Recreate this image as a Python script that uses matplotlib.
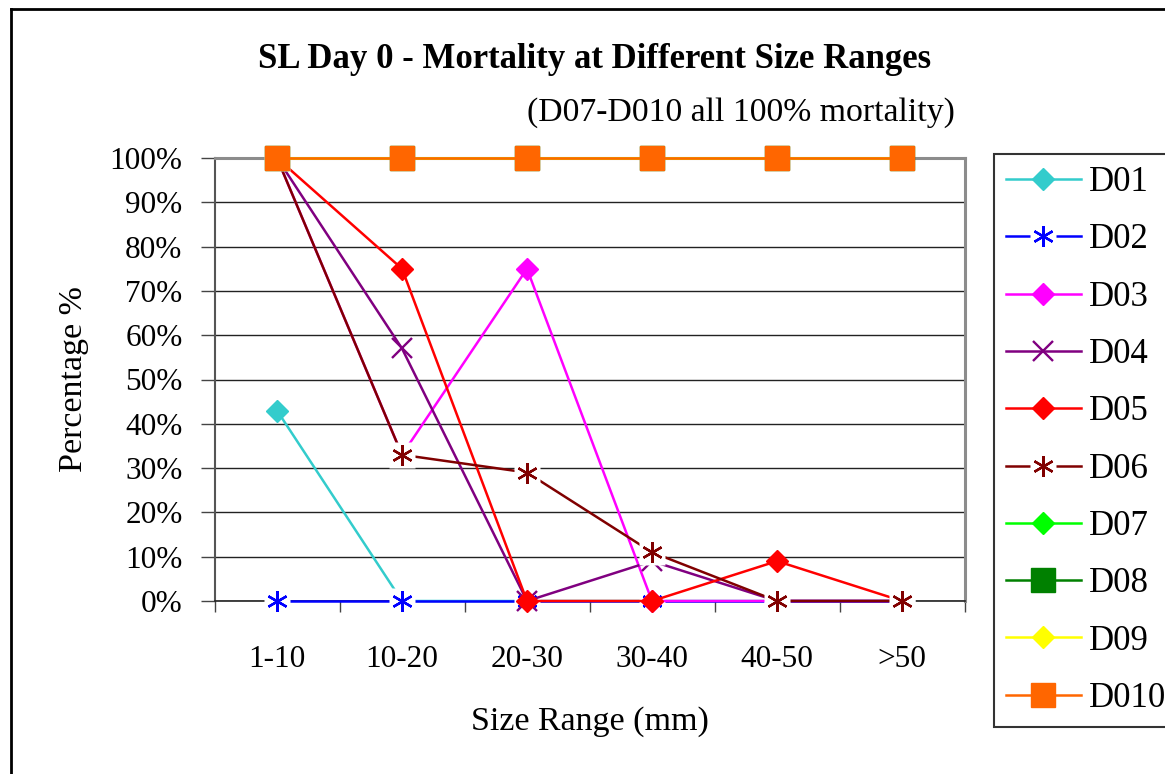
import matplotlib
matplotlib.use("Agg")
import matplotlib.pyplot as plt
from matplotlib.lines import Line2D
from matplotlib.ticker import FixedLocator, PercentFormatter

plt.rcParams["font.family"] = ["Liberation Serif", "DejaVu Serif"]

# mortality (%) per size class for each dose group
size_ranges = ["1-10", "10-20", "20-30", "30-40", "40-50", ">50"]
series_names = ["D01", "D02", "D03", "D04", "D05", "D06", "D07", "D08", "D09", "D010"]
d01 = [43, 0, 0, 0, 0, 0]
d02 = [0, 0, 0, 0, 0, 0]
d03 = [100, 33, 75, 0, 0, 0]
d04 = [100, 57, 0, 9, 0, 0]
d05 = [100, 75, 0, 0, 9, 0]
d06 = [100, 33, 29, 11, 0, 0]
d07 = [100, 100, 100, 100, 100, 100]
d08 = [100, 100, 100, 100, 100, 100]
d09 = [100, 100, 100, 100, 100, 100]
d010 = [100, 100, 100, 100, 100, 100]
all_values = [d01, d02, d03, d04, d05, d06, d07, d08, d09, d010]

# colour, marker, marker size, marker edge width, white box behind marker
styles = [
    ("#33CCCC", "D", 11, 0, False),
    ("#0000FF", (6, 2, 0), 15, 1.7, True),
    ("#FF00FF", "D", 11, 0, False),
    ("#800080", "x", 14, 1.7, False),
    ("#FF0000", "D", 11, 0, False),
    ("#800000", (6, 2, 0), 15, 1.7, True),
    ("#00FF00", "D", 11, 0, False),
    ("#008000", "s", 17, 0, False),
    ("#FFFF00", "D", 11, 0, False),
    ("#FF6600", "s", 17, 0, False),
]

W, H = 1165, 774
fig = plt.figure(figsize=(W / 100, H / 100), dpi=100)
ax = fig.add_axes([214.5 / W, 1 - 601 / H, 750 / W, 443 / H])

x = list(range(1, len(size_ranges) + 1))
handles = []
for i, (name, vals) in enumerate(zip(series_names, all_values)):
    color, marker, ms, mew, boxed = styles[i]
    z = 3 + i * 0.1
    ax.plot(x, vals, color=color, lw=1.8, zorder=z, clip_on=False)
    parts = [Line2D([], [], color=color, lw=1.8)]
    if boxed:
        ax.plot(x, vals, ls="none", marker="s", ms=19, mfc="white", mec="none",
                zorder=z + 0.01, clip_on=False)
        parts.append(Line2D([], [], ls="none", marker="s", ms=19, mfc="white", mec="none"))
    ax.plot(x, vals, ls="none", marker=marker, ms=ms, color=color, mec=color,
            mew=mew if mew else 1, zorder=z + 0.02, clip_on=False)
    parts.append(Line2D([], [], ls="none", marker=marker, ms=ms, color=color, mec=color,
                        mew=mew if mew else 1))
    handles.append(tuple(parts))

ax.set_xlim(0.5, len(size_ranges) + 0.5)
ax.set_ylim(0, 100)
ax.set_yticks(range(0, 101, 10))
ax.yaxis.set_major_formatter(PercentFormatter(decimals=0))
ax.set_xticks(x)
ax.set_xticklabels(size_ranges)
ax.xaxis.set_minor_locator(FixedLocator([v + 0.5 for v in range(0, len(size_ranges) + 1)]))
ax.tick_params(axis="x", which="major", length=0, pad=32, labelsize=22.5)
ax.tick_params(axis="x", which="minor", length=8, width=1, color="#444444", direction="out")
ax.tick_params(axis="y", length=10, width=1, color="#444444", direction="out", pad=13,
               labelsize=22.5)

ax.grid(axis="y", color="#222222", lw=1, zorder=1)
ax.set_axisbelow(True)
ax.spines["top"].set_color("#8c8c8c")
ax.spines["right"].set_color("#8c8c8c")
ax.spines["top"].set_linewidth(2.2)
ax.spines["right"].set_linewidth(2.2)
ax.spines["left"].set_color("#555555")
ax.spines["left"].set_linewidth(1.5)
ax.spines["bottom"].set_color("#222222")
ax.spines["bottom"].set_linewidth(1.2)

ax.set_xlabel("Size Range (mm)", fontsize=24.5, labelpad=23)
ax.set_ylabel("Percentage %", fontsize=24.5, labelpad=15)

fig.text(595 / W, 1 - 60 / H, "SL Day 0 - Mortality at Different Size Ranges",
         ha="center", va="center", fontsize=25, fontweight="bold")
fig.text(955 / W, 1 - 113 / H, "(D07-D010 all 100% mortality)",
         ha="right", va="center", fontsize=24.3)

fig.legend(handles, series_names, loc="upper left",
           bbox_to_anchor=(994 / W, 1 - 154 / H), borderaxespad=0,
           fontsize=25, frameon=True, fancybox=False, edgecolor="black",
           handlelength=2.15, handletextpad=0.23, labelspacing=0.7, borderpad=0.35)
fig.legends[0].get_frame().set_linewidth(1.5)

# outer chart border
fig.add_artist(Line2D([11 / W, 11 / W], [0, 1 - 9 / H], color="black", lw=2,
                      transform=fig.transFigure))
fig.add_artist(Line2D([11 / W, 1], [1 - 9 / H, 1 - 9 / H], color="black", lw=2,
                      transform=fig.transFigure))

fig.savefig("out.png", dpi=100)
